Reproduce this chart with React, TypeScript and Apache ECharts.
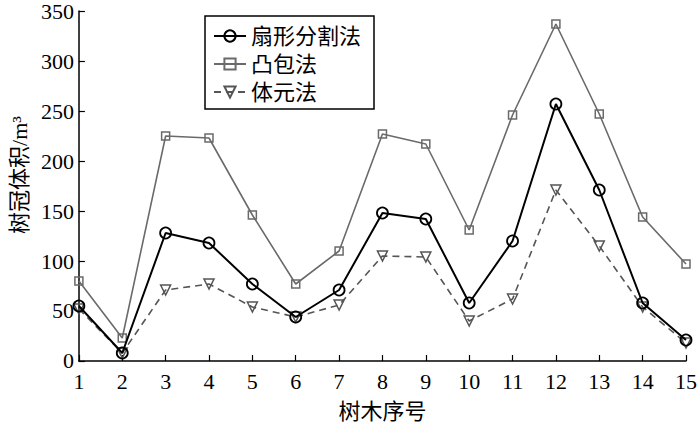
import React, { useEffect, useRef } from "react";
import * as echarts from "echarts";

const treeIds = ["1","2","3","4","5","6","7","8","9","10","11","12","13","14","15"];
const fanSplit = [55, 8, 128, 118, 77, 44, 71, 148, 142, 58, 120, 257, 171, 58, 21];
const convexHull = [80, 23, 225, 223, 146, 77, 110, 227, 217, 131, 246, 337, 247, 144, 97];
const voxel = [52, 8, 71, 77, 54, 44, 56, 105, 104, 40, 62, 171, 115, 54, 18];
const seriesNames = ["扇形分割法", "凸包法", "体元法"];

const SERIF = "'Liberation Serif', 'Times New Roman', 'Noto Sans CJK SC', serif";
const CJK = "'Liberation Serif', 'Noto Sans CJK SC', sans-serif";

export default function App() {
  const ref = useRef<HTMLDivElement>(null);
  useEffect(() => {
    const chart = echarts.init(ref.current!, null, { renderer: "svg" });
    chart.setOption({
      animation: false,
      backgroundColor: "#fff",
      grid: { left: 73, right: 13, top: 11, bottom: 65, containLabel: false },
      graphic: [
        {
          type: "rect",
          shape: { x: 205, y: 16, width: 169, height: 93 },
          style: { fill: "#fff", stroke: "#000", lineWidth: 1.5 },
          z: 5,
        },
      ],
      legend: {
        orient: "vertical",
        left: 205,
        top: 16,
        padding: [9, 7, 6, 8],
        itemWidth: 32,
        itemHeight: 14,
        itemGap: 6,
        z: 10,
        textStyle: { fontFamily: CJK, fontSize: 22, color: "#000", lineHeight: 22 },
        data: seriesNames,
      },
      xAxis: {
        type: "category",
        data: treeIds,
        boundaryGap: false,
        name: "树木序号",
        nameLocation: "middle",
        nameGap: 39,
        nameTextStyle: { fontFamily: CJK, fontSize: 22, color: "#000" },
        axisLine: { lineStyle: { color: "#000", width: 1.5 } },
        axisTick: { inside: true, length: 6, lineStyle: { color: "#000", width: 1.2 } },
        axisLabel: { fontFamily: SERIF, fontSize: 22, color: "#000", margin: 9 },
        splitLine: { show: false },
      },
      yAxis: {
        type: "value",
        min: 0,
        max: 350,
        interval: 50,
        name: "树冠体积/m³",
        nameLocation: "middle",
        nameGap: 46,
        nameTextStyle: { fontFamily: CJK, fontSize: 22, color: "#000", padding: [0, 0, 0, 22] },
        axisLine: { show: true, lineStyle: { color: "#000", width: 1.5 } },
        axisTick: { show: true, inside: true, length: 6, lineStyle: { color: "#000", width: 1.2 } },
        axisLabel: { fontFamily: SERIF, fontSize: 22, color: "#000", margin: 5 },
        splitLine: { show: false },
      },
      series: [
        {
          name: seriesNames[0],
          type: "line",
          data: fanSplit,
          symbol: "circle",
          symbolSize: 11,
          lineStyle: { color: "#000", width: 2 },
          itemStyle: { color: "rgba(255,255,255,0)", borderColor: "#000", borderWidth: 1.8 },
          z: 4,
        },
        {
          name: seriesNames[1],
          type: "line",
          data: convexHull,
          symbol: "rect",
          symbolSize: 8,
          lineStyle: { color: "#6a6a6a", width: 1.6 },
          itemStyle: { color: "rgba(255,255,255,0)", borderColor: "#6a6a6a", borderWidth: 1.5 },
          z: 3,
        },
        {
          name: seriesNames[2],
          type: "line",
          data: voxel,
          symbol: "triangle",
          symbolRotate: 180,
          symbolSize: 10,
          lineStyle: { color: "#555", width: 1.6, type: [7, 5] },
          itemStyle: { color: "rgba(255,255,255,0)", borderColor: "#555", borderWidth: 1.5 },
          z: 2,
        },
      ],
    });
    return () => chart.dispose();
  }, []);
  return <div ref={ref} style={{ width: 700, height: 427, position: "absolute", left: 0, top: 0 }} />;
}
